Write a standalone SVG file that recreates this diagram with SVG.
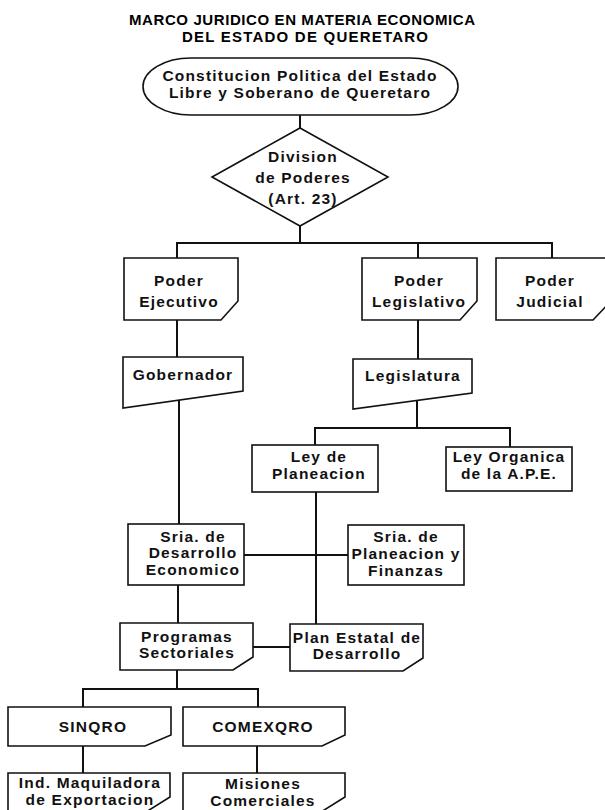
<svg xmlns="http://www.w3.org/2000/svg" width="605" height="810" viewBox="0 0 605 810">
<style>
  .bg { fill: #ffffff; }
  .node { fill: #ffffff; stroke: #111111; stroke-width: 1.6; stroke-linejoin: miter; }
  .conn { fill: none; stroke: #111111; stroke-width: 2; }
  .t { font-family: "Liberation Sans", Arial, sans-serif; font-weight: bold; font-size: 15.5px; letter-spacing: 1.2px; fill: #111111; text-anchor: middle; }
  .title { font-family: "Liberation Sans", Arial, sans-serif; font-weight: bold; font-size: 15px; fill: #000000; text-anchor: middle; }
</style>
<rect class="bg" x="0" y="0" width="605" height="810"/>

<g id="title">
  <text class="title" x="302" y="25" textLength="346" lengthAdjust="spacing">MARCO JURIDICO EN MATERIA ECONOMICA</text>
  <text class="title" x="305" y="42" textLength="246" lengthAdjust="spacing">DEL ESTADO DE QUERETARO</text>
</g>

<g id="connectors">
  <line class="conn" x1="300" y1="115" x2="300" y2="128"/>
  <polyline class="conn" points="300,226 300,243"/>
  <polyline class="conn" points="177,258 177,243 552,243 552,258"/>
  <line class="conn" x1="418" y1="243" x2="418" y2="258"/>
  <line class="conn" x1="177" y1="320" x2="177" y2="357"/>
  <line class="conn" x1="418" y1="320" x2="418" y2="359"/>
  <line class="conn" x1="179" y1="400" x2="179" y2="524"/>
  <line class="conn" x1="417" y1="401" x2="417" y2="428"/>
  <polyline class="conn" points="315,445 315,428 510,428 510,447"/>
  <line class="conn" x1="316" y1="492" x2="316" y2="624"/>
  <line class="conn" x1="244" y1="555" x2="348" y2="555"/>
  <line class="conn" x1="178" y1="585" x2="178" y2="623"/>
  <line class="conn" x1="253" y1="647" x2="290" y2="647"/>
  <line class="conn" x1="177" y1="670" x2="177" y2="689"/>
  <polyline class="conn" points="83,707 83,689 258,689 258,707"/>
  <line class="conn" x1="83" y1="746" x2="83" y2="773"/>
  <line class="conn" x1="257" y1="746" x2="257" y2="773"/>
</g>

<g id="constitucion">
  <rect class="node" x="143" y="58" width="315" height="57" rx="48" ry="28.5"/>
  <text class="t" x="300" y="81">Constitucion Politica del Estado</text>
  <text class="t" x="300" y="98">Libre y Soberano de Queretaro</text>
</g>

<g id="division">
  <polygon class="node" points="300,128 388,177 300,226 212,177"/>
  <text class="t" x="303" y="162">Division</text>
  <text class="t" x="303" y="183">de Poderes</text>
  <text class="t" x="303" y="204">(Art. 23)</text>
</g>

<g id="poder-ejecutivo">
  <path class="node" d="M124,258 H238 V301 L221,320 H124 Z"/>
  <text class="t" x="179" y="286">Poder</text>
  <text class="t" x="179" y="307">Ejecutivo</text>
</g>

<g id="poder-legislativo">
  <path class="node" d="M362,258 H477 V301 L460,320 H362 Z"/>
  <text class="t" x="419" y="286">Poder</text>
  <text class="t" x="419" y="307">Legislativo</text>
</g>

<g id="poder-judicial">
  <path class="node" d="M496,258 H610 V302 L593,320 H496 Z"/>
  <text class="t" x="550" y="286">Poder</text>
  <text class="t" x="550" y="307">Judicial</text>
</g>

<g id="gobernador">
  <polygon class="node" points="123,357 243,357 243,391 123,408"/>
  <text class="t" x="183" y="380">Gobernador</text>
</g>

<g id="legislatura">
  <polygon class="node" points="353,359 472,359 472,393 353,409"/>
  <text class="t" x="413" y="381">Legislatura</text>
</g>

<g id="ley-planeacion">
  <rect class="node" x="252" y="445" width="126" height="47"/>
  <text class="t" x="319" y="462">Ley de</text>
  <text class="t" x="319" y="479">Planeacion</text>
</g>

<g id="ley-organica">
  <rect class="node" x="446" y="447" width="126" height="44"/>
  <text class="t" x="509" y="462">Ley Organica</text>
  <text class="t" x="509" y="479">de la A.P.E.</text>
</g>

<g id="sria-desarrollo">
  <rect class="node" x="128" y="524" width="116" height="61"/>
  <text class="t" x="193" y="542">Sria. de</text>
  <text class="t" x="193" y="558">Desarrollo</text>
  <text class="t" x="193" y="575">Economico</text>
</g>

<g id="sria-planeacion">
  <rect class="node" x="348" y="525" width="116" height="60"/>
  <text class="t" x="406" y="542">Sria. de</text>
  <text class="t" x="406" y="559">Planeacion y</text>
  <text class="t" x="406" y="576">Finanzas</text>
</g>

<g id="programas-sectoriales">
  <path class="node" d="M120,623 H253 V657 L233,670 H120 Z"/>
  <text class="t" x="187" y="642">Programas</text>
  <text class="t" x="187" y="658">Sectoriales</text>
</g>

<g id="plan-estatal">
  <path class="node" d="M290,624 H423 V658 L403,671 H290 Z"/>
  <text class="t" x="357" y="643">Plan Estatal de</text>
  <text class="t" x="357" y="659">Desarrollo</text>
</g>

<g id="sinqro">
  <path class="node" d="M8,707 H171 V735 L145,746 H8 Z"/>
  <text class="t" x="93" y="732">SINQRO</text>
</g>

<g id="comexqro">
  <path class="node" d="M183,707 H345 V735 L322,746 H183 Z"/>
  <text class="t" x="263" y="732">COMEXQRO</text>
</g>

<g id="ind-maquiladora">
  <path class="node" d="M8,816 V773 H170 V797 L146,812"/>
  <text class="t" x="90" y="788">Ind. Maquiladora</text>
  <text class="t" x="90" y="805">de Exportacion</text>
</g>

<g id="misiones-comerciales">
  <path class="node" d="M183,816 V773 H345 V797 L321,812"/>
  <text class="t" x="263" y="789">Misiones</text>
  <text class="t" x="263" y="806">Comerciales</text>
</g>
</svg>
